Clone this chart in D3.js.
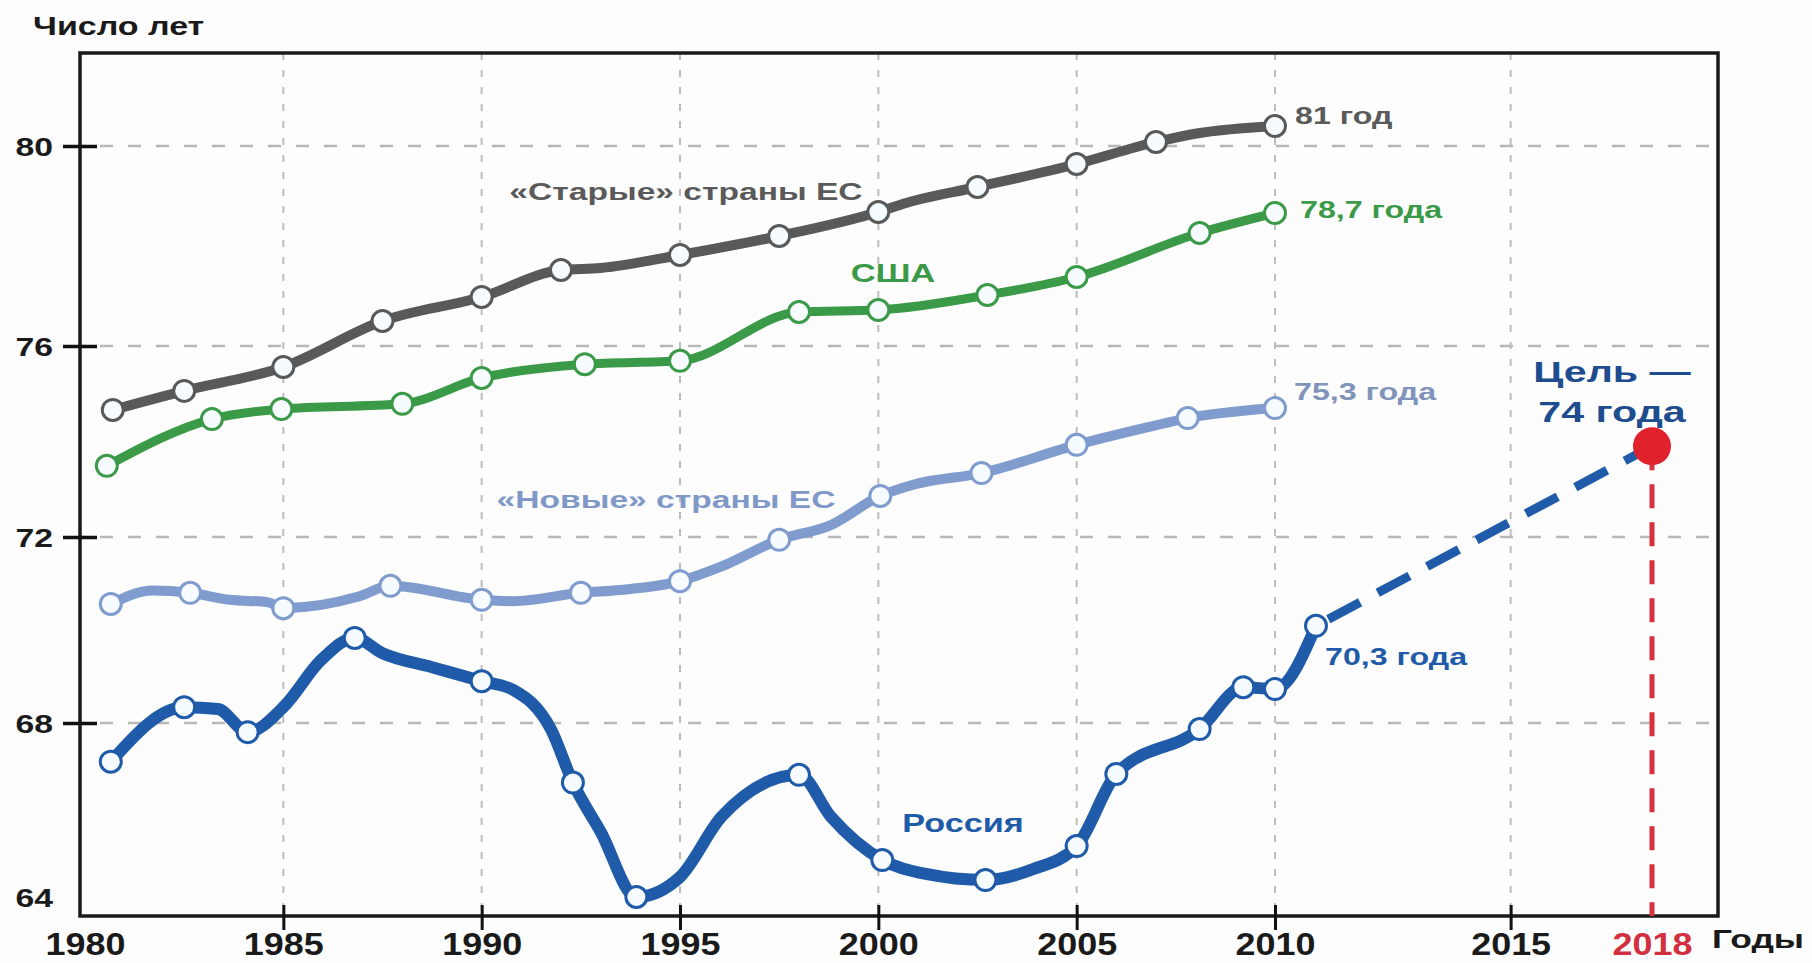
<!DOCTYPE html>
<html>
<head>
<meta charset="utf-8">
<script src="https://cdnjs.cloudflare.com/ajax/libs/d3/7.8.5/d3.min.js"></script>
<style>
  html, body { margin: 0; padding: 0; background: #fcfdfc; }
  svg { display: block; font-family: "Liberation Sans", Arial, sans-serif; }
</style>
</head>
<body>
<div id="chart"></div>
<script>
const W = 1812, H = 963;
const box = { left: 80, right: 1718, top: 53, bottom: 916 };

// axis ticks
const yTicks = [64, 68, 72, 76, 80];
const yGrid = [68, 72, 76, 80];
const xTicks = [1980, 1985, 1990, 1995, 2000, 2005, 2010, 2015];
const xGrid = [1985, 1990, 1995, 2000, 2005, 2010, 2015];
const targetYear = 2018;

// "Старые" страны ЕС
const oldEU = [[1980.7, 74.66], [1982.5, 75.06], [1985, 75.56], [1987.5, 76.5], [1990, 76.98],
  [1992, 77.52], [1993, 77.56], [1995, 77.82], [1997.5, 78.2], [2000, 78.68], [2000.7, 78.86],
  [2002.5, 79.18], [2005, 79.64], [2007, 80.08], [2008.1, 80.26], [2010, 80.4]];
const oldEUDots = [1980.7, 1982.5, 1985, 1987.5, 1990, 1992, 1995, 1997.5, 2000, 2002.5, 2005, 2007, 2010];

// США
const usa = [[1980.55, 73.49], [1983.2, 74.47], [1984.95, 74.68], [1988, 74.79], [1990, 75.33],
  [1992.6, 75.62], [1995, 75.69], [1998, 76.68], [2000, 76.72], [2002.75, 77.02], [2005, 77.38],
  [2008.1, 78.26], [2010, 78.66]];
const usaDots = usa.map(d => d[0]);

// "Новые" страны ЕС
const newEU = [[1980.65, 70.56], [1981.7, 70.85], [1982.65, 70.8], [1983.65, 70.65], [1984.6, 70.6],
  [1985, 70.47], [1986.9, 70.72], [1987.7, 70.95], [1990, 70.65], [1990.8, 70.62], [1992.5, 70.8],
  [1993.5, 70.86], [1995, 71.05], [1996, 71.35], [1997.5, 71.94], [1998.8, 72.25], [2000.05, 72.86],
  [2000.9, 73.1], [2002.6, 73.34], [2005, 73.93], [2006.8, 74.3], [2007.8, 74.49], [2010, 74.7]];
const newEUDots = [1980.65, 1982.65, 1985, 1987.7, 1990, 1992.5, 1995, 1997.5, 2000.05, 2002.6, 2005, 2007.8, 2010];

// Россия
const russia = [[1980.65, 67.11], [1982.5, 68.34], [1983.35, 68.3], [1984.1, 67.79], [1985, 68.34],
  [1985.95, 69.35], [1986.8, 69.83], [1987.5, 69.5], [1988.75, 69.2], [1990, 68.9], [1990.8, 68.71],
  [1991.75, 67.85], [1992.3, 66.63], [1993, 65.5], [1993.9, 64.0], [1995, 64.46], [1996.05, 65.85],
  [1998, 66.81], [1998.8, 65.85], [2000.1, 64.85], [2001.2, 64.53], [2002.7, 64.39], [2003.9, 64.64],
  [2005, 65.17], [2006, 66.83], [2008.1, 67.86], [2009.2, 68.77], [2010, 68.73], [2010.87, 70.09]];
const russiaDots = [1980.65, 1982.5, 1984.1, 1986.8, 1990, 1992.3, 1993.9, 1998, 2000.1, 2002.7,
  2005, 2006, 2008.1, 2009.2, 2010, 2010.87];

// цель на 2018 год
const target = [2018, 73.9];
const projection = [russia[russia.length - 1], target];

const colors = { old: "#595959", usa: "#3b9a48", newEU: "#809cce", russia: "#1f5ba8", red: "#e0222c" };

// the picture's scales are not uniform, so piecewise scales
const x = d3.scaleLinear().domain([1980, 2010, 2018]).range([85, 1275, 1652]);
const y = d3.scaleLinear().domain([64, 68, 72, 76, 80]).range([897, 723, 537, 346, 146]);

const svg = d3.select("#chart").append("svg")
    .attr("width", W)
    .attr("height", H);

svg.append("rect").attr("width", W).attr("height", H).attr("fill", "#fcfdfc");

// grid
svg.append("g").selectAll("line")
    .data(yGrid).enter().append("line")
    .attr("x1", box.left).attr("x2", box.right)
    .attr("y1", d => y(d)).attr("y2", d => y(d))
    .attr("stroke", "#b8b8b8").attr("stroke-width", 2.5)
    .attr("stroke-dasharray", "13,15").attr("stroke-dashoffset", -20);

svg.append("g").selectAll("line")
    .data(xGrid).enter().append("line")
    .attr("x1", d => x(d)).attr("x2", d => x(d))
    .attr("y1", box.top).attr("y2", box.bottom)
    .attr("stroke", "#bdbdbd").attr("stroke-width", 2)
    .attr("stroke-dasharray", "7,10");

// frame
svg.append("rect")
    .attr("x", box.left).attr("y", box.top)
    .attr("width", box.right - box.left).attr("height", box.bottom - box.top)
    .attr("fill", "none").attr("stroke", "#1a1a1a").attr("stroke-width", 3.5);

// y axis
const yAxis = svg.append("g")
    .attr("transform", `translate(${box.left},0)`)
    .call(d3.axisLeft(y).tickValues(yTicks).tickSize(0));
yAxis.select(".domain").remove();
yAxis.selectAll(".tick line")
    .attr("x1", -17).attr("x2", 17)
    .attr("stroke", "#111").attr("stroke-width", 3.5);
yAxis.selectAll(".tick").filter(d => d === 64).select("line").remove();
yAxis.selectAll(".tick text")
    .attr("x", 0).attr("dy", "0.36em")
    .attr("transform", "translate(-27,0) scale(1.35,1)")
    .attr("text-anchor", "end")
    .attr("font-size", 25).attr("font-weight", "bold")
    .attr("font-family", "Liberation Sans, Arial, sans-serif")
    .attr("fill", "#1a1a1a");

// x axis
const xAxis = svg.append("g")
    .attr("transform", `translate(0,${box.bottom})`)
    .call(d3.axisBottom(x).tickValues([...xTicks, targetYear]).tickSize(0).tickFormat(d3.format("d")));
xAxis.select(".domain").remove();
xAxis.selectAll(".tick line")
    .attr("y1", -11).attr("y2", 14)
    .attr("stroke", "#111").attr("stroke-width", 3);
xAxis.selectAll(".tick").filter(d => d === 1980 || d === targetYear).select("line").remove();
xAxis.selectAll(".tick text")
    .attr("y", 0).attr("dy", 0)
    .attr("transform", "translate(0,39) scale(1.16,1)")
    .attr("font-size", 31).attr("font-weight", "bold")
    .attr("font-family", "Liberation Sans, Arial, sans-serif")
    .attr("fill", d => d === targetYear ? "#d3303f" : "#1a1a1a");

// lines
const line = d3.line().x(d => x(d[0])).y(d => y(d[1])).curve(d3.curveMonotoneX);

const series = [
  { data: oldEU, dots: oldEUDots, color: colors.old, width: 10 },
  { data: usa, dots: usaDots, color: colors.usa, width: 9 },
  { data: newEU, dots: newEUDots, color: colors.newEU, width: 10 },
  { data: russia, dots: russiaDots, color: colors.russia, width: 12 }
];

series.forEach(s => {
  svg.append("path")
      .datum(s.data)
      .attr("fill", "none")
      .attr("stroke", s.color)
      .attr("stroke-width", s.width)
      .attr("stroke-linejoin", "round")
      .attr("stroke-linecap", "round")
      .attr("d", line);
});

// projection to the goal
svg.append("path")
    .datum(projection)
    .attr("fill", "none")
    .attr("stroke", colors.russia)
    .attr("stroke-width", 9)
    .attr("stroke-dasharray", "36,20")
    .attr("stroke-dashoffset", -14)
    .attr("d", d3.line().x(d => x(d[0])).y(d => y(d[1])));

svg.append("line")
    .attr("x1", x(target[0])).attr("x2", x(target[0]))
    .attr("y1", y(target[1])).attr("y2", box.bottom)
    .attr("stroke", "#d9303f").attr("stroke-width", 5)
    .attr("stroke-dasharray", "24,14");

svg.append("circle")
    .attr("cx", x(target[0])).attr("cy", y(target[1]))
    .attr("r", 19)
    .attr("fill", colors.red);

// markers
series.forEach(s => {
  const pts = s.data.filter(d => s.dots.includes(d[0]));
  svg.append("g").selectAll("circle")
      .data(pts).enter().append("circle")
      .attr("cx", d => x(d[0]))
      .attr("cy", d => y(d[1]))
      .attr("r", 10.5)
      .attr("fill", "#f6fbff")
      .attr("stroke", s.color)
      .attr("stroke-width", 3);
});

// labels
function note(txt, px, py, size, color, sx, anchor) {
  svg.append("text")
      .attr("transform", `translate(${px},${py}) scale(${sx},1)`)
      .attr("text-anchor", anchor || "start")
      .attr("font-size", size)
      .attr("font-weight", "bold")
      .attr("fill", color)
      .text(txt);
}

const last = arr => arr[arr.length - 1];

note("Число лет", 33, 35, 25, "#1a1a1a", 1.36);
note("Годы", 1712, 948, 26, "#1a1a1a", 1.36);

note("«Старые» страны ЕС", 686, 200, 24, "#5a5a5a", 1.4, "middle");
note("США", 893, 282, 26, colors.usa, 1.33, "middle");
note("«Новые» страны ЕС", 666, 508, 24, "#8098c8", 1.4, "middle");
note("Россия", 963, 832, 25, colors.russia, 1.37, "middle");

note("81 год", x(last(oldEU)[0]) + 20, y(last(oldEU)[1]) - 2, 23, "#5a5a5a", 1.4);
note("78,7 года", x(last(usa)[0]) + 25, y(last(usa)[1]) + 5, 23, colors.usa, 1.4);
note("75,3 года", x(last(newEU)[0]) + 19, y(last(newEU)[1]) - 8, 23, "#8093bb", 1.4);
note("70,3 года", 1325, 665, 23, colors.russia, 1.4);

note("Цель —", 1612, 382, 29, "#1d4c8f", 1.42, "middle");
note("74 года", 1612, 422, 29, "#1d4c8f", 1.42, "middle");
</script>
</body>
</html>
